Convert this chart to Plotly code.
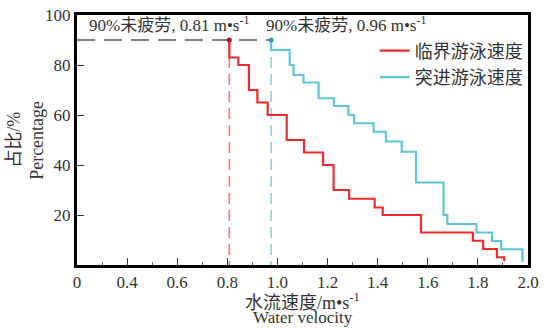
import plotly.graph_objects as go

# Data
critical_x = [0.808, 0.808, 0.844, 0.886, 0.92, 0.961, 1.037, 1.106, 1.182, 1.224, 1.286,
              1.388, 1.42, 1.573, 1.78, 1.821, 1.876, 1.905]
critical_pct = [90, 83, 80, 70, 65, 60, 50, 45, 40, 30, 26.5, 23, 20, 13, 9.7, 6.4, 3.1, 1.5]

burst_x = [0.975, 0.975, 1.049, 1.064, 1.104, 1.164, 1.226, 1.283, 1.306, 1.384, 1.433,
           1.496, 1.553, 1.663, 1.678, 1.794, 1.856, 1.893, 1.978]
burst_pct = [90, 86, 80, 76, 73, 66.7, 63.6, 60, 56.7, 53.3, 49.4, 45.3, 33, 20, 16.4, 13,
             9.6, 6.3, 1.3]

fatigue_pct = 90
critical_90 = 0.808
burst_90 = 0.975
x_min = 0.2

tick_vals = [0.2, 0.4, 0.6, 0.8, 1.0, 1.2, 1.4, 1.6, 1.8, 2.0]
tick_text = ["0", "0.4", "0.6", "0.8", "1.0", "1.2", "1.4", "1.6", "1.8", "2.0"]
y_ticks = [20, 40, 60, 80, 100]

RED = "#ee2a2a"
CYAN = "#5cc6d6"
SERIF = "Liberation Serif, Noto Sans CJK SC, serif"
TXT = "#333333"

fig = go.Figure()

# gray dashed 90% line
fig.add_trace(go.Scatter(x=[x_min, burst_90], y=[fatigue_pct, fatigue_pct], mode="lines",
                         line=dict(color="#555555", width=1.6, dash="18px,9px"),
                         showlegend=False, hoverinfo="skip"))
# dashed verticals
fig.add_trace(go.Scatter(x=[critical_90, critical_90], y=[fatigue_pct, 0], mode="lines",
                         line=dict(color="#f27a7a", width=1.6, dash="11px,6px"),
                         showlegend=False, hoverinfo="skip"))
fig.add_trace(go.Scatter(x=[burst_90, burst_90], y=[fatigue_pct, 0], mode="lines",
                         line=dict(color="#86d6e2", width=1.6, dash="11px,6px"),
                         showlegend=False, hoverinfo="skip"))

fig.add_trace(go.Scatter(x=critical_x, y=critical_pct, mode="lines", line_shape="hv",
                         line=dict(color=RED, width=2.2), name="临界游泳速度"))
fig.add_trace(go.Scatter(x=burst_x, y=burst_pct, mode="lines", line_shape="hv",
                         line=dict(color=CYAN, width=2.2), name="突进游泳速度"))

# dots
fig.add_trace(go.Scatter(x=[critical_90], y=[fatigue_pct], mode="markers",
                         marker=dict(color="#b01818", size=5), showlegend=False))
fig.add_trace(go.Scatter(x=[burst_90], y=[fatigue_pct], mode="markers",
                         marker=dict(color="#2f9fb2", size=5), showlegend=False))

ann_font = dict(family=SERIF, size=17, color=TXT)
fig.add_annotation(x=0.241, y=96.5, xref="x", yref="y", xanchor="left", yanchor="middle",
                   text="90%未疲劳, 0.81 m•s<sup>-1</sup>", showarrow=False, font=ann_font)
fig.add_annotation(x=0.945, y=96.5, xref="x", yref="y", xanchor="left", yanchor="middle",
                   text="90%未疲劳, 0.96 m•s<sup>-1</sup>", showarrow=False, font=ann_font)

# axis titles
title_font = dict(family=SERIF, size=18, color=TXT)
fig.add_annotation(x=0.5, y=-0.145, xref="paper", yref="paper", xanchor="center", yanchor="middle",
                   text="水流速度/m•s<sup>-1</sup>", showarrow=False, font=title_font)
fig.add_annotation(x=0.5, y=-0.211, xref="paper", yref="paper", xanchor="center", yanchor="middle",
                   text="Water velocity", showarrow=False,
                   font=dict(family=SERIF, size=17, color=TXT))
fig.add_annotation(x=-0.14, y=0.5, xref="paper", yref="paper", xanchor="center", yanchor="middle",
                   text="占比/%", textangle=-90, showarrow=False, font=title_font)
fig.add_annotation(x=-0.089, y=0.5, xref="paper", yref="paper", xanchor="center", yanchor="middle",
                   text="Percentage", textangle=-90, showarrow=False, font=title_font)

fig.update_layout(
    width=544, height=328,
    margin=dict(l=77, r=16, t=15, b=63, autoexpand=False),
    plot_bgcolor="white", paper_bgcolor="white",
    font=dict(family=SERIF, size=17, color=TXT),
    legend=dict(x=0.66, y=0.93, xanchor="left", yanchor="top",
                bgcolor="rgba(0,0,0,0)", font=dict(family=SERIF, size=18, color=TXT),
                itemwidth=30, tracegroupgap=0),
    xaxis=dict(range=[x_min, 2.0], tickvals=tick_vals, ticktext=tick_text, automargin=False,
               ticks="inside", ticklen=7, tickwidth=1.2, tickcolor="#333",
               minor=dict(tickvals=[0.3, 0.5, 0.7, 0.9, 1.1, 1.3, 1.5, 1.7, 1.9],
                          ticks="inside", ticklen=3, tickcolor="#666"),
               showgrid=False, zeroline=False, showline=True, linecolor="black",
               linewidth=3, mirror=True, tickfont=dict(size=17)),
    yaxis=dict(range=[0, 100], tickvals=y_ticks, ticks="inside", ticklen=7, tickwidth=1.2,
               automargin=False,
               tickcolor="#333", showgrid=False, zeroline=False, showline=True,
               linecolor="black", linewidth=3, mirror=True, tickfont=dict(size=17)),
)

fig.write_html("out.html", config={"displayModeBar": False},
               post_script="document.body.style.margin='0';document.body.style.overflow='hidden';")
